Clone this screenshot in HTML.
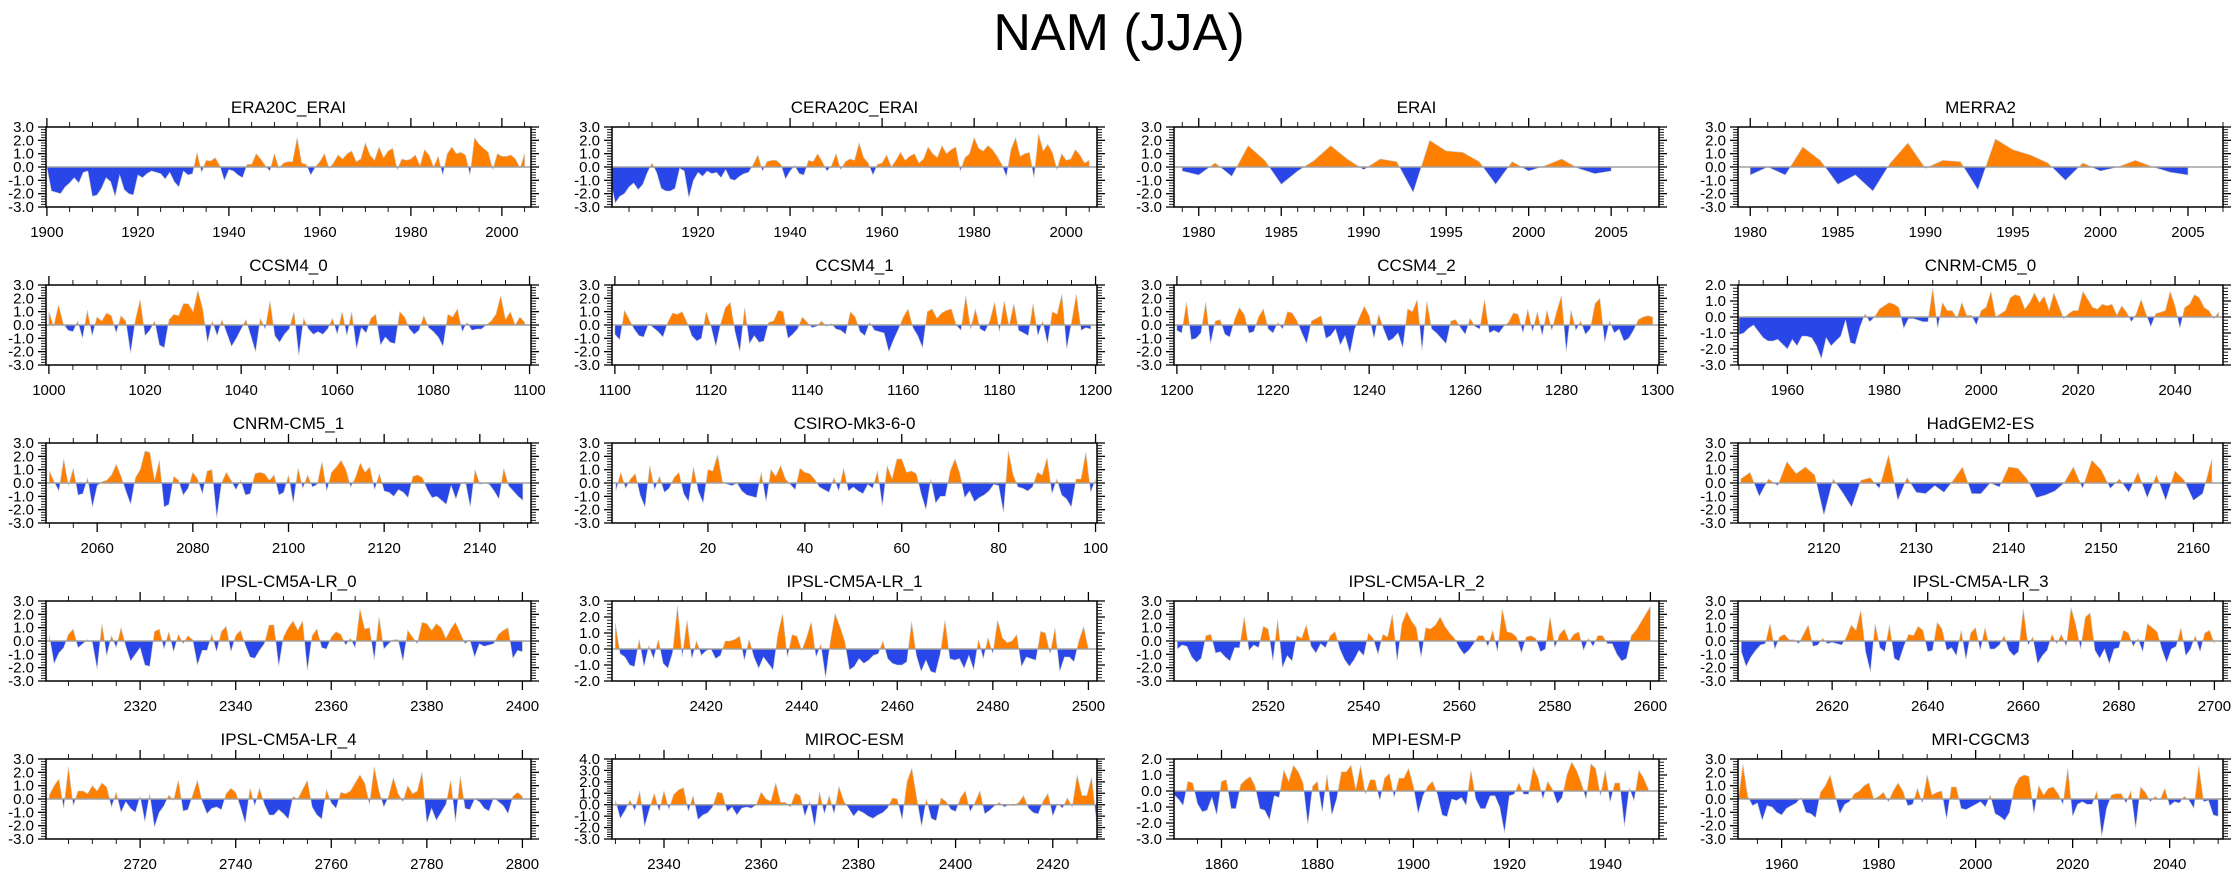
<!DOCTYPE html>
<html><head><meta charset="utf-8"><title>NAM (JJA)</title>
<style>
html,body{margin:0;padding:0;background:#fff;}
svg{display:block;font-family:"Liberation Sans",Arial,sans-serif;}
</style></head>
<body>
<svg id="chart" width="2238" height="876" viewBox="0 0 2238 876" xmlns="http://www.w3.org/2000/svg">
<rect x="0" y="0" width="2238" height="876" fill="#fff"/>
<text x="1119" y="50" font-size="52" text-anchor="middle" fill="#000">NAM (JJA)</text>
</svg>
<script>
const panelTitles = ["ERA20C_ERAI","CERA20C_ERAI","ERAI","MERRA2","CCSM4_0","CCSM4_1","CCSM4_2","CNRM-CM5_0","CNRM-CM5_1","CSIRO-Mk3-6-0","HadGEM2-ES","IPSL-CM5A-LR_0","IPSL-CM5A-LR_1","IPSL-CM5A-LR_2","IPSL-CM5A-LR_3","IPSL-CM5A-LR_4","MIROC-ESM","MPI-ESM-P","MRI-CGCM3"];
const startYears = [1900,1901,1979,1980,1000,1100,1200,1950,2050,1,2111,2301,2401,2501,2601,2701,2330,1850,1951];
const xMins = [1899.8,1901.3,1978.5,1979.3,999.4,1099.4,1199.4,1949.8,2049.3,0.2,2110.7,2300.3,2400.3,2500.3,2600.3,2700.3,2329.3,1850.1,1951];
const xMaxs = [2006.4,2006.7,2007.9,2007.0,1100.3,1200.3,1300.3,2049.9,2150.7,100.3,2163.2,2401.8,2501.8,2601.8,2701.8,2801.8,2429.1,1951.2,2051];
const yMins = [-3,-3,-3,-3,-3,-3,-3,-3,-3,-3,-3,-3,-2,-3,-3,-3,-3,-3,-3];
const yMaxs = [3,3,3,3,3,3,3,2,3,3,3,3,3,3,3,3,4,2,3];
const xMajorSteps = [20,20,5,5,20,20,20,20,20,20,10,20,20,20,20,20,20,20,20];
const xMinorSteps = [5,5,1,1,5,5,5,5,5,5,2,5,5,5,5,5,5,5,5];
const gridCols = [0,1,2,3,0,1,2,3,0,1,3,0,1,2,3,0,1,2,3];
const gridRows = [0,0,0,0,1,1,1,1,2,2,2,3,3,3,3,4,4,4,4];

const valsERA20C = [0.0,-1.8,-1.9,-2.0,-1.5,-1.2,-0.8,-1.2,-0.4,-0.3,-2.2,-2.1,-1.6,-0.8,-1.1,-2.2,-0.6,-1.7,-2.0,-2.1,-0.6,-0.8,-0.5,-0.3,-0.4,-0.5,-0.9,-0.4,-1.1,-1.5,-0.3,-0.6,-0.5,1.1,-0.4,0.5,0.45,0.7,0.1,-1.0,-0.2,-0.3,-0.6,-0.8,0.2,0.2,1.0,0.6,0.1,-0.3,1.0,-0.1,0.3,0.4,0.4,2.2,0.3,0.2,-0.6,0.0,0.4,1.0,-0.1,0.3,0.9,0.6,1.0,1.2,0.4,0.6,1.8,0.9,0.5,1.5,0.7,1.2,1.4,-0.2,0.6,0.5,0.6,0.9,0.1,1.3,0.9,0.0,0.8,-0.6,1.0,1.5,1.0,1.1,0.9,-0.6,2.2,1.7,1.4,1.1,-0.2,1.0,0.8,0.8,0.9,0.6,-0.1,1.0];
const valsCERA20C = [-1.0,-2.7,-2.2,-2.0,-1.5,-1.2,-1.7,-1.3,-0.4,0.3,-0.4,-1.6,-1.8,-1.8,-1.6,-0.1,-0.3,-2.3,-1.0,-0.4,-0.7,-0.3,-0.5,-0.4,-0.8,-0.2,-0.9,-1.0,-0.7,-0.5,-0.4,0.2,0.9,-0.3,0.4,0.5,0.5,0.2,-0.9,-0.3,0.1,-0.5,-0.6,0.5,0.4,1.0,0.4,-0.3,0.1,1.0,-0.2,0.4,0.6,0.5,1.8,0.7,0.3,-0.6,0.2,0.3,0.9,0.0,0.5,1.1,0.5,0.8,1.0,0.3,0.6,1.5,1.0,0.7,1.6,1.0,1.3,1.5,-0.3,0.7,1.0,2.2,1.4,1.2,1.6,1.3,0.8,0.2,-0.7,1.3,2.2,0.8,1.0,1.1,-0.8,2.5,1.2,1.7,1.1,-0.2,1.0,0.5,0.6,1.3,0.9,0.3,0.5];
const valsERAI = [-0.3,-0.6,0.3,-0.7,1.6,0.5,-1.3,-0.3,0.5,1.6,0.6,-0.2,0.6,0.4,-1.9,2.0,1.2,1.1,0.4,-1.3,0.4,-0.3,0.1,0.6,-0.1,-0.5,-0.3];
const valsMERRA2 = [-0.6,0.0,-0.6,1.5,0.5,-1.3,-0.6,-1.8,0.3,1.8,-0.1,0.5,0.4,-1.7,2.1,1.3,0.9,0.3,-1.0,0.3,-0.3,0.0,0.5,0.0,-0.4,-0.6];
const valsCCSM4_0 = [1.0,-0.1,1.5,0.1,-0.4,-0.5,0.3,-1.0,1.1,-0.8,0.6,0.3,0.9,0.7,-0.6,0.7,0.3,-2.1,0.4,1.9,-0.8,-0.4,0.3,-1.5,-1.7,0.4,0.8,0.7,1.6,1.6,1.0,2.6,1.2,-1.3,0.3,-0.8,0.4,-0.6,-1.6,-1.0,-0.3,0.4,-0.8,-2.0,0.5,-0.3,1.8,-0.8,-1.3,-0.7,-0.3,1.0,-2.3,0.5,-0.3,-0.7,-0.5,-0.7,-0.3,0.5,-0.7,1.0,-0.8,1.0,-1.8,-0.2,-0.6,0.5,0.8,-1.5,-0.9,-1.3,-1.4,1.0,0.6,-0.3,-0.7,-0.4,0.7,-0.2,-0.5,-0.9,-1.6,0.8,0.6,1.2,-0.5,0.2,-0.4,-0.3,-0.3,0.0,0.3,0.8,2.2,0.4,1.0,0.0,0.6,0.2];
const valsCCSM4_1 = [-0.7,-1.1,1.1,0.4,-0.3,-0.8,-0.9,0.1,-0.2,-0.5,-0.9,0.2,0.9,0.8,1.0,0.2,-0.8,-1.2,-1.0,1.0,-0.1,-1.6,0.1,1.3,1.7,-0.5,-2.0,1.3,-1.4,-0.8,-1.3,-1.2,0.2,0.3,1.1,1.0,-1.0,-0.7,-0.3,0.6,0.2,-0.2,-0.1,0.3,-0.1,0.1,-0.3,-0.4,-0.7,1.0,0.6,-0.5,-0.8,0.2,-0.4,-0.5,-0.6,-2.0,-1.1,-0.3,0.6,1.2,-0.2,-0.8,-1.7,1.0,1.2,0.5,0.9,1.1,1.2,0.0,-0.4,2.2,-0.3,1.2,-0.3,-0.5,0.3,1.7,-0.5,1.8,-0.1,1.6,-0.4,-0.6,-0.8,1.6,-0.8,0.3,-1.4,1.0,0.8,2.3,-1.8,0.2,2.3,-0.4,-0.2,-0.3];
const valsCCSM4_2 = [-0.4,-0.6,1.7,-1.1,-1.0,-0.6,1.7,-1.4,0.3,0.4,-0.7,-0.9,0.4,1.3,0.8,-0.6,-0.5,0.6,1.2,-0.3,-0.6,0.2,-0.3,1.0,0.9,0.3,-0.6,-1.4,0.3,0.5,0.7,-1.0,-0.8,-0.3,-1.5,-0.8,-2.1,-0.3,0.6,1.4,0.7,-1.0,0.8,-0.3,-1.2,-1.0,-0.6,-1.7,1.2,1.0,1.9,-1.9,1.8,-0.3,-0.6,-1.0,-1.4,0.3,0.4,-0.2,-0.7,0.5,-0.1,-0.3,1.9,-0.6,-0.4,-0.6,-0.1,0.2,0.9,0.8,-0.6,1.2,-0.5,1.0,-0.8,1.1,-0.4,1.0,2.2,-2.0,1.1,-0.4,0.3,-0.7,-0.3,1.6,2.0,-1.3,0.3,-0.6,-0.3,-1.2,-1.0,-0.4,0.4,0.6,0.7,0.6];
const valsCNRM0 = [-1.1,-1.0,-0.7,-0.5,-0.9,-1.3,-1.5,-1.5,-1.4,-1.7,-2.0,-1.4,-1.8,-1.2,-1.2,-1.3,-1.8,-2.6,-1.3,-1.8,-1.5,-1.2,-0.2,-1.6,-1.7,-0.6,0.2,-0.3,0.0,0.5,0.7,0.9,0.8,0.6,-0.7,-0.1,-0.1,-0.2,-0.3,-0.3,1.8,-0.7,0.9,0.4,0.4,-0.1,0.9,0.1,0.1,-0.5,0.4,0.6,1.6,0.0,0.2,0.4,1.2,1.4,1.3,0.5,0.9,1.5,0.9,1.3,0.4,1.5,0.7,-0.1,0.2,0.4,0.4,1.6,1.1,0.6,0.5,0.8,0.7,0.8,0.1,0.7,0.3,-0.3,0.2,1.1,0.2,-0.6,0.2,0.3,0.4,1.6,0.7,-0.7,0.6,0.8,1.4,1.2,0.6,0.4,-0.1,0.3];
const valsCNRM1 = [0.9,0.1,-0.6,1.8,-0.2,1.1,-0.9,-0.8,0.4,-1.8,-0.2,0.1,0.2,0.6,1.4,0.5,-0.6,-1.6,0.4,1.0,2.4,2.3,0.2,1.7,-1.8,-1.6,0.5,0.2,-0.9,-0.4,0.8,0.3,-0.8,0.9,1.0,-2.6,0.0,0.8,0.2,-0.5,0.2,-0.9,-0.8,0.7,0.8,0.7,0.2,0.6,-0.9,-0.7,0.6,-1.5,1.1,-0.4,0.6,-0.3,-0.1,1.6,-0.6,0.8,1.2,1.7,1.0,-0.3,0.4,1.5,0.8,1.2,-0.5,0.7,-0.6,-0.7,-1.0,-0.5,-0.7,-1.1,0.5,0.6,0.4,-0.5,-1.1,-1.0,-1.3,-1.6,-0.2,-1.2,-0.1,0.1,-1.8,1.0,-0.1,0.0,-0.1,-0.6,-1.2,1.1,-0.2,-0.6,-1.0,-1.3];
const valsCSIRO = [-0.6,0.8,-0.4,0.3,0.7,-0.9,-1.8,1.3,-0.5,0.5,-0.7,-0.4,0.4,0.8,-0.8,-1.4,1.2,-0.6,-1.5,1.0,0.9,2.1,0.1,-0.1,-0.2,0.0,-0.6,-0.9,-1.0,-1.1,0.8,-1.4,1.0,0.5,1.3,0.3,-0.1,-0.5,1.1,0.8,0.7,0.3,-0.3,-0.5,-0.7,0.4,-0.6,1.1,-0.6,-0.3,-0.6,-0.8,-0.1,-0.4,0.9,-1.7,1.3,0.3,1.8,1.8,0.8,0.9,0.7,-0.8,-2.0,0.3,-1.5,-1.0,-1.0,0.9,1.8,0.7,-1.1,-0.6,-1.4,-1.1,-0.9,-0.6,-0.1,-0.2,-2.2,2.4,0.6,-0.3,-0.4,-0.6,-0.3,0.8,0.6,1.9,-0.8,0.3,-0.9,-1.2,-1.8,0.3,0.3,2.3,-0.7,0.3];
const valsHadGEM = [0.3,0.8,-1.0,0.3,-0.2,1.6,0.7,1.2,0.6,-2.4,0.3,-0.7,-1.8,0.2,0.4,-0.4,2.1,-1.3,0.4,-0.7,-0.8,-0.2,-0.7,0.2,1.2,-0.8,-0.8,0.0,-0.3,1.2,1.1,0.3,-1.1,-0.9,-0.6,0.0,1.2,-0.4,1.7,1.0,-0.4,0.3,-0.7,0.8,-1.1,0.6,-1.3,0.9,0.2,-1.3,-0.8,1.8];
const valsIPSL0 = [0.4,-1.7,-0.9,-0.5,0.5,0.9,-0.5,-0.2,0.1,-0.1,-2.1,1.3,-1.1,0.4,-0.5,1.0,-0.4,-1.5,-1.0,-0.5,-1.8,-1.9,0.7,0.9,-0.6,0.7,-0.8,0.5,-0.2,0.4,0.1,-1.8,-0.7,-0.7,0.5,-0.8,0.7,1.1,-0.8,0.4,0.8,-0.3,-1.2,-1.3,-0.7,-0.2,1.2,1.2,-1.9,0.3,1.0,1.5,0.8,1.5,-2.2,0.4,0.9,-0.5,-0.6,0.3,0.7,0.5,-0.3,0.2,-0.5,2.4,0.9,1.0,-1.4,1.8,-0.6,-0.2,0.1,0.1,-1.5,0.8,0.3,-0.2,1.4,1.3,0.8,1.3,1.0,0.2,0.9,1.4,0.6,-0.2,0.1,-1.2,-0.2,-0.4,-0.3,-0.2,0.5,0.8,1.0,-1.3,-0.7,-0.8];
const valsIPSL1 = [1.6,-0.3,-0.5,-1.0,-1.1,0.6,-1.1,0.2,-0.6,0.6,-0.9,-1.2,-0.2,2.7,-0.5,1.8,-0.6,0.5,-0.4,-0.1,0.0,-0.6,-0.4,0.5,0.5,0.6,0.8,-0.7,0.6,-0.5,-1.2,-0.5,-0.9,-1.3,0.9,2.2,-0.5,0.9,0.8,-0.1,0.7,1.7,-0.5,0.3,-1.8,0.5,2.2,1.4,0.5,-1.3,-1.1,-0.6,-0.9,-0.7,-0.4,-0.3,0.5,-0.6,-0.9,-1.0,-1.0,-0.8,1.7,-0.4,-1.4,-0.7,-1.4,-1.5,-0.3,1.8,-0.6,-0.7,-0.6,-1.2,-0.4,-1.3,0.6,-0.6,0.7,-0.3,1.8,0.7,0.4,0.5,0.9,-1.1,-0.5,-0.6,-0.7,1.1,1.0,-0.3,1.3,-1.4,-0.5,-0.5,-0.8,0.5,1.4,0.0];
const valsIPSL2 = [-0.6,-0.3,-0.4,-1.2,-1.6,-1.3,0.4,0.5,-0.9,-0.8,-1.2,-1.5,-0.5,-0.5,1.8,-0.7,-0.3,-0.5,1.1,0.9,-1.5,1.6,-2.0,-1.1,-1.5,0.4,0.2,1.2,-0.4,-0.9,-0.2,-0.5,0.4,0.7,-0.6,-1.4,-1.9,-1.4,-0.7,-1.1,0.6,0.2,-1.0,0.5,0.3,2.0,-1.5,1.3,2.2,1.5,1.0,-1.2,1.0,0.9,1.2,1.8,1.1,0.6,0.2,-0.5,-1.0,-0.7,-0.2,0.4,0.4,-0.4,0.8,-0.8,2.4,0.7,0.6,0.3,-0.9,0.3,0.4,0.2,-0.8,-0.6,1.8,-0.5,0.5,0.9,0.0,0.5,0.7,-0.7,0.2,-0.4,0.4,0.4,-0.2,-0.2,-1.0,-1.5,-1.3,0.4,0.8,1.4,2.0,2.6];
const valsIPSL3 = [-0.8,-1.9,-1.2,-0.7,-0.3,-0.2,1.3,-0.6,0.3,0.5,0.1,0.1,-0.2,0.5,1.2,-0.4,-0.3,0.2,-0.2,-0.1,-0.2,-0.3,0.3,1.2,0.8,2.3,-0.8,-2.3,1.3,-0.5,-0.8,1.2,-1.3,-1.5,-0.4,0.5,0.4,1.1,0.8,-0.8,-0.7,1.4,0.9,-0.7,-0.5,-1.1,0.8,-1.4,0.6,1.0,-0.7,1.0,-0.6,-0.6,-0.3,0.4,-0.7,-1.1,-0.8,2.4,-0.3,0.3,-1.7,-1.1,-0.7,0.5,-0.2,0.5,-0.4,2.5,1.2,-0.6,1.8,2.1,-0.7,-1.3,-0.6,-1.7,-0.6,-0.5,0.8,0.6,-0.4,0.2,-0.8,1.3,1.0,0.7,-0.6,-1.6,-0.6,-0.4,1.0,-1.1,-0.6,0.4,-0.8,0.6,0.8,-0.2];
const valsIPSL4 = [0.3,1.0,1.5,-0.7,2.4,-0.5,0.6,0.6,0.4,1.0,0.6,1.2,0.9,-0.6,0.5,-1.0,-0.2,-0.7,-1.0,0.2,-1.7,0.4,-2.1,-1.0,-0.5,0.3,-0.1,1.4,-0.9,-0.8,0.3,1.4,-0.2,-1.1,-0.7,-0.6,-0.8,0.4,0.8,0.5,-0.6,-1.8,0.8,-0.5,0.8,-0.4,-1.2,-1.2,-0.8,-1.1,-1.5,0.2,0.0,0.7,1.4,-0.6,-1.2,-1.5,0.7,-0.3,-0.7,0.5,0.4,0.6,1.2,1.8,1.2,-0.4,2.4,0.6,-0.6,0.2,1.6,0.4,-0.2,1.0,0.4,0.6,2.0,-1.8,-0.7,-1.6,-1.0,-0.4,1.4,-1.7,1.7,-0.7,-0.8,0.0,-0.2,-0.7,-0.9,0.1,-0.2,-0.5,-1.1,0.2,0.5,0.2];
const valsMIROC = [0.4,-1.2,-0.5,0.4,-0.5,1.2,-1.9,-0.4,1.0,-0.6,1.2,-0.4,0.9,1.3,1.5,-0.6,0.8,-1.3,-0.9,-0.7,-0.2,1.1,1.0,-0.6,-0.2,-0.9,-0.3,-0.2,-0.3,0.0,1.1,0.5,0.3,1.9,0.2,0.2,-0.2,1.0,0.8,-1.0,0.3,-1.9,1.1,-0.8,0.8,-0.8,1.6,0.3,-0.3,-1.0,-0.5,-0.7,-1.0,-1.2,-0.9,-0.7,-0.3,0.6,0.5,-1.3,2.0,3.2,0.6,-1.9,0.5,-1.2,-1.4,0.6,0.3,-0.4,-0.6,0.6,1.2,-0.6,0.2,1.2,-0.8,-0.5,-0.1,0.2,-0.2,0.0,-0.1,0.2,0.8,-0.3,-0.7,-0.8,0.3,1.0,-1.0,0.1,-0.3,0.6,-0.2,2.6,0.8,0.8,2.4,-1.5];
const valsMPI = [-0.2,-0.5,-0.9,0.6,0.5,-0.8,-1.3,-1.2,-0.4,-1.5,0.6,0.7,-1.1,-1.1,0.4,0.7,0.9,0.3,-1.1,-1.2,-1.8,-0.3,-0.4,1.3,0.6,1.6,1.2,0.5,-2.1,0.3,0.6,-1.3,1.0,-1.5,-0.5,1.2,1.2,1.6,0.1,1.6,-0.2,0.7,0.7,-0.6,0.8,1.1,-0.4,0.8,0.8,1.4,0.3,-1.4,-0.3,0.3,0.6,-0.2,-1.5,-1.6,-0.5,-0.6,-0.4,-0.9,1.3,-0.5,-1.1,-1.1,-0.3,-0.3,-1.0,-2.6,-0.3,-0.2,0.5,-0.2,-0.2,1.5,0.8,-0.5,0.6,0.1,-0.8,-0.4,1.0,1.8,1.3,0.5,-0.5,1.7,1.4,-0.3,1.3,-0.7,0.5,0.5,-2.2,0.2,-0.6,1.3,0.8,0.1];
const valsMRI = [-0.3,2.6,0.2,-0.5,-0.3,-1.6,-0.5,-0.6,-1.0,-1.2,-0.7,-0.5,-0.3,0.1,-1.0,-1.1,-1.4,0.5,1.0,1.8,0.3,-1.1,-0.4,-0.2,0.4,0.6,1.0,1.2,0.0,0.2,0.5,-0.2,0.6,1.2,0.6,-0.5,-0.4,0.8,-0.3,1.8,0.3,0.5,0.6,-1.5,0.9,0.9,-0.7,-0.8,-0.6,-0.4,-0.2,-0.6,0.3,-1.1,-1.3,-1.6,-1.0,0.9,1.6,1.8,1.7,-1.1,1.0,0.3,0.8,0.9,0.4,-0.4,2.3,-1.3,-0.4,-0.2,-0.4,-0.4,0.6,-2.8,-0.7,0.3,0.4,0.4,-0.3,0.6,-2.2,0.9,0.5,-0.2,0.2,-0.1,0.8,-0.5,-0.2,-0.3,0.2,-0.1,-0.7,2.5,-0.2,-0.1,-1.2,-1.3];

const seriesValues = [valsERA20C,valsCERA20C,valsERAI,valsMERRA2,valsCCSM4_0,valsCCSM4_1,valsCCSM4_2,valsCNRM0,valsCNRM1,valsCSIRO,valsHadGEM,valsIPSL0,valsIPSL1,valsIPSL2,valsIPSL3,valsIPSL4,valsMIROC,valsMPI,valsMRI];

const NS = "http://www.w3.org/2000/svg";
const svg = document.getElementById("chart");
const colLeft = [46, 612, 1174, 1738];
const boxW = 485, boxH = 80, rowTop0 = 127, rowPitch = 158;

function mk(tag, attrs, parent) {
  const e = document.createElementNS(NS, tag);
  for (const k in attrs) e.setAttribute(k, attrs[k]);
  parent.appendChild(e);
  return e;
}
function fmt(v){ return v.toFixed(1); }

for (let i = 0; i < panelTitles.length; i++) {
  const L = colLeft[gridCols[i]], T = rowTop0 + rowPitch * gridRows[i];
  const R = L + boxW, B = T + boxH;
  const x0 = xMins[i], x1 = xMaxs[i], y0 = yMins[i], y1 = yMaxs[i];
  const xs = v => L + (v - x0) / (x1 - x0) * boxW;
  const ys = v => B - (v - y0) / (y1 - y0) * boxH;
  const g = mk("g", {}, svg);
  
  

  const title = mk("text", {x: (L + R) / 2, y: T - 14, "font-size": 17, "text-anchor": "middle", fill: "#000"}, g);
  title.textContent = panelTitles[i];
  
  

  const zy = ys(0);
  const vals = seriesValues[i], st = startYears[i];
  let pts = xs(st).toFixed(2) + "," + zy.toFixed(2);
  for (let k = 0; k < vals.length; k++) pts += " " + xs(st + k).toFixed(2) + "," + ys(vals[k]).toFixed(2);
  pts += " " + xs(st + vals.length - 1).toFixed(2) + "," + zy.toFixed(2);

  const cpA = mk("clipPath", {id: "ca" + i}, g);
  mk("rect", {x: L, y: T, width: boxW, height: zy - T}, cpA);
  const cpB = mk("clipPath", {id: "cb" + i}, g);
  mk("rect", {x: L, y: zy, width: boxW, height: B - zy}, cpB);

  const pos = mk("polygon", {points: pts, fill: "#ff8000", "clip-path": "url(#ca" + i + ")"}, g);
  
  
  const neg = mk("polygon", {points: pts, fill: "#2946e8", "clip-path": "url(#cb" + i + ")"}, g);
  
  
  const outline = mk("polygon", {points: pts, fill: "none", stroke: "#c8c8c8", "stroke-width": 0.6}, g);
  
  

  const zl = mk("line", {x1: L, x2: R, y1: zy, y2: zy, stroke: "#a0a0a0", "stroke-width": 1.5}, g);
  
  

  // y ticks
  for (let v = y0; v <= y1 + 1e-6; v += 0.2) {
    const y = ys(v), major = Math.abs(v - Math.round(v)) < 1e-6;
    const len = major ? 8 : 5;
    mk("line", {x1: L, x2: L - len, y1: y, y2: y, stroke: "#000", "stroke-width": major ? 1.3 : 0.9}, g);
    mk("line", {x1: R, x2: R + len, y1: y, y2: y, stroke: "#000", "stroke-width": major ? 1.3 : 0.9}, g);
    if (major) {
      const t = mk("text", {x: L - 12, y: y + 5, "font-size": 15, "text-anchor": "end", fill: "#000"}, g);
      t.textContent = fmt(Math.round(v));
      
      
    }
  }
  // x ticks
  const mn = xMinorSteps[i], mj = xMajorSteps[i];
  for (let v = Math.ceil(x0 / mn) * mn; v <= x1; v += mn) {
    const x = xs(v), major = v % mj === 0;
    const len = major ? 9 : 5;
    mk("line", {x1: x, x2: x, y1: B, y2: B + len, stroke: "#000", "stroke-width": major ? 1.3 : 0.9}, g);
    mk("line", {x1: x, x2: x, y1: T, y2: T - len, stroke: "#000", "stroke-width": major ? 1.3 : 0.9}, g);
    if (major) {
      const t = mk("text", {x: x, y: B + 30, "font-size": 15, "text-anchor": "middle", fill: "#000"}, g);
      t.textContent = String(v);
      
      
    }
  }
  const box = mk("rect", {x: L, y: T, width: boxW, height: boxH, fill: "none", stroke: "#000", "stroke-width": 1.5}, g);
  
  
}
</script>
</body></html>
